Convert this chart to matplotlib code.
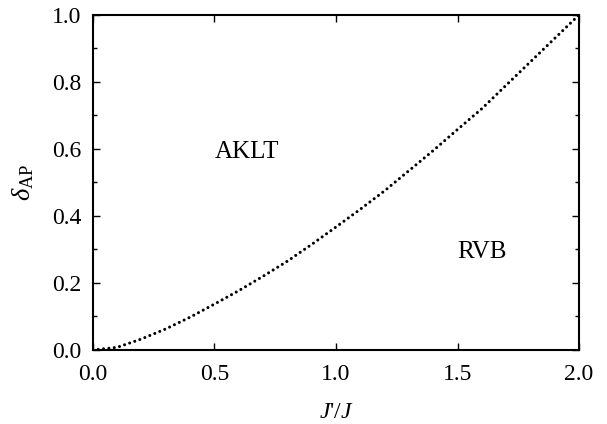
import numpy as np
import matplotlib.pyplot as plt
from matplotlib.ticker import MultipleLocator

# boundary between AKLT and RVB phases
ratio = [0.0, 0.1, 0.2, 0.3, 0.4, 0.5, 0.6, 0.7, 0.8, 0.9, 1.0,
         1.1, 1.2, 1.3, 1.4, 1.5, 1.6, 1.7, 1.8, 1.9, 2.0]
delta_ap = [0.0, 0.008, 0.033, 0.063, 0.098, 0.137, 0.177, 0.22, 0.265, 0.315, 0.367,
            0.42, 0.475, 0.535, 0.595, 0.658, 0.72, 0.79, 0.86, 0.93, 1.0]

plt.rcParams['font.family'] = 'serif'
plt.rcParams['font.serif'] = ['Liberation Serif', 'DejaVu Serif']
plt.rcParams['mathtext.fontset'] = 'custom'
plt.rcParams['mathtext.rm'] = 'Liberation Serif'
plt.rcParams['mathtext.it'] = 'Liberation Serif:italic'

fig = plt.figure(figsize=(6.07, 4.24), dpi=100)
ax = fig.add_axes([0.153, 0.1745, 0.801, 0.7905])

ax.plot(ratio, delta_ap, color='black', lw=2.2, linestyle=(0, (0.01, 1.75)),
        dash_capstyle='round')

ax.set_xlim(0, 2)
ax.set_ylim(0, 1)
ax.xaxis.set_major_locator(MultipleLocator(0.5))
ax.yaxis.set_major_locator(MultipleLocator(0.2))
ax.yaxis.set_minor_locator(MultipleLocator(0.1))
ax.tick_params(which='both', direction='in', top=True, right=True, width=1.0)
ax.tick_params(which='major', length=5, labelsize=17)
ax.tick_params(which='minor', length=3)
ax.tick_params(axis='x', pad=10)
ax.tick_params(axis='y', pad=8)
ax.xaxis.set_major_formatter(plt.FormatStrFormatter('%.1f'))
ax.yaxis.set_major_formatter(plt.FormatStrFormatter('%.1f'))
for s in ax.spines.values():
    s.set_linewidth(1.5)

ax.set_xlabel("$J$'/$J$", fontsize=17, labelpad=12)
ax.set_ylabel(r'$\delta_{\rm AP}$', fontsize=19, labelpad=12)

ax.text(0.636, 0.59, 'AKLT', fontsize=18, ha='center', va='center')
ax.text(1.6, 0.293, 'RVB', fontsize=18, ha='center', va='center')

fig.savefig('out.png', dpi=100)
